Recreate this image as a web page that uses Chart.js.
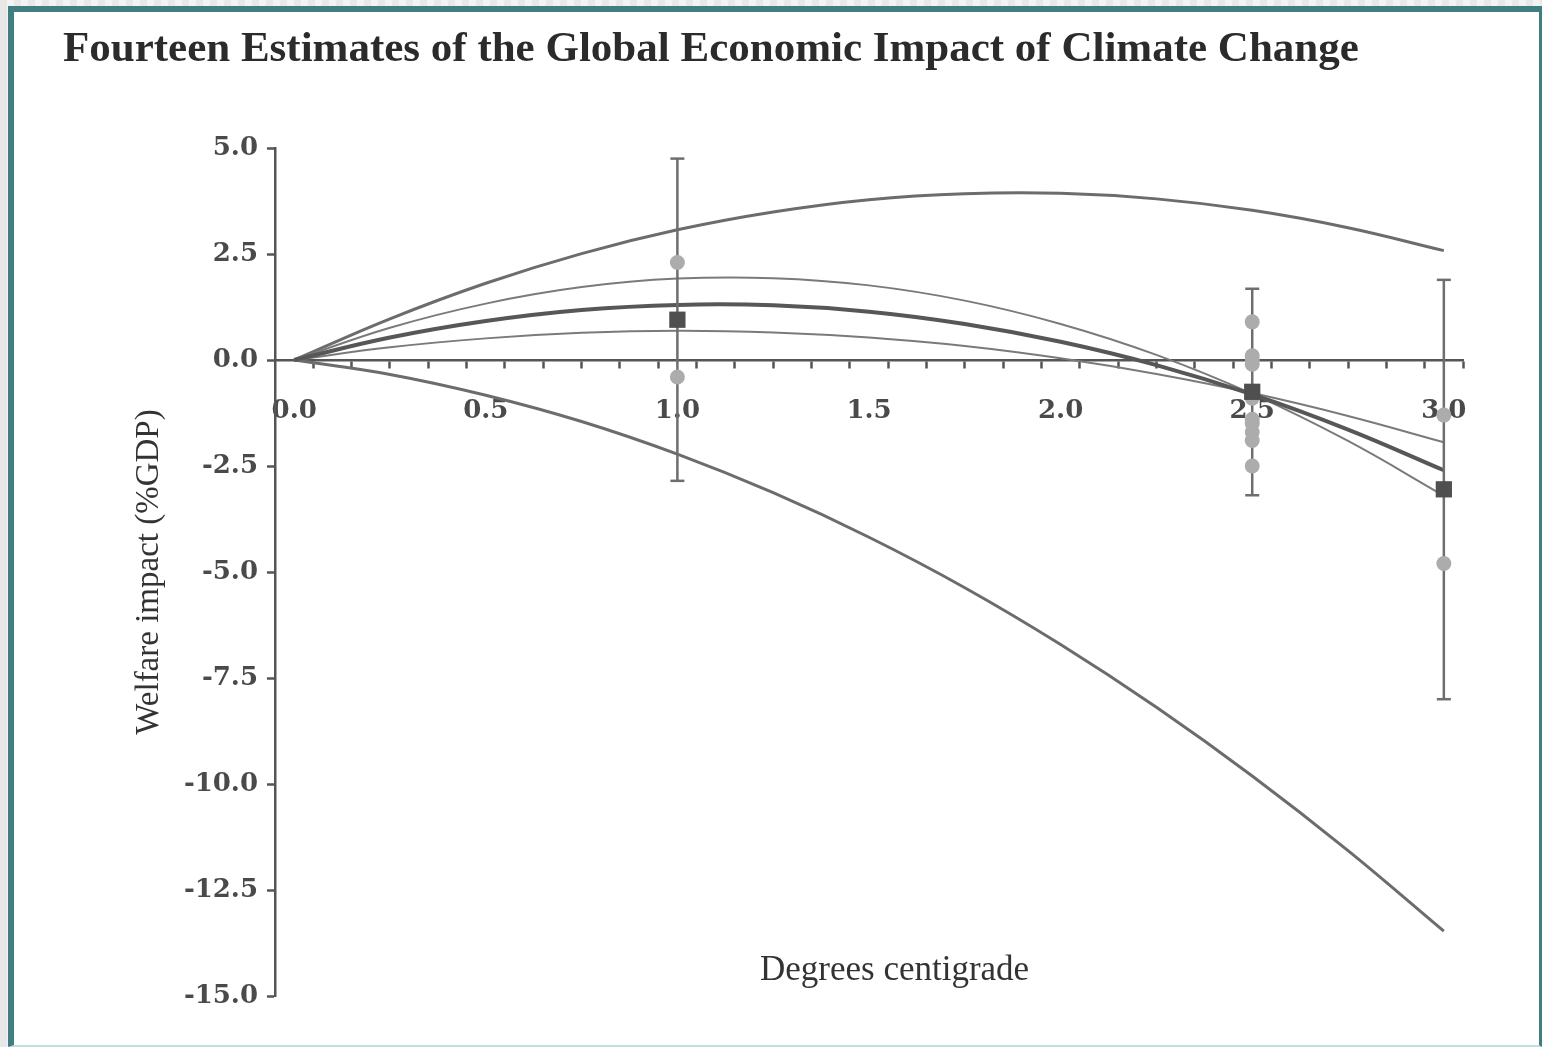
<!DOCTYPE html>
<html>
<head>
<meta charset="utf-8">
<script src="https://cdn.jsdelivr.net/npm/chart.js@4.4.1/dist/chart.umd.min.js"></script>
<style>
  html, body { margin: 0; padding: 0; }
  body {
    width: 1542px; height: 1047px; position: relative; overflow: hidden;
    background: repeating-linear-gradient(90deg, #e8e8e8 0 7px, #f3f3f3 7px 14px);
  }
  #frame {
    position: absolute; left: 8px; top: 6px; width: 1534px; height: 1041px;
    box-sizing: border-box; background: #fff;
    border-left: 6px solid #3f7f81; border-top: 6px solid #3f7f81;
    border-right: 3px solid #3f7f81; border-bottom: 2px solid #c5dcdd;
  }
  #title {
    position: absolute; left: 63px; top: 25px; margin: 0;
    font: bold 43px/43px "Liberation Serif", serif; color: #2b2b2b; white-space: nowrap;
  }
  #xcap {
    position: absolute; left: 760px; top: 951px;
    font: 35px/36px "Liberation Serif", serif; color: #333; white-space: nowrap;
  }
  #chart { position: absolute; left: 0; top: 0; }
</style>
</head>
<body>
<div id="frame"></div>
<canvas id="chart" width="1542" height="1047"></canvas>
<h1 id="title">Fourteen Estimates of the Global Economic Impact of Climate Change</h1>
<div id="xcap">Degrees centigrade</div>
<script>
// temperatures where the fitted curves were read
const temps = [0, 0.25, 0.5, 0.75, 1, 1.25, 1.5, 1.75, 2, 2.25, 2.5, 2.75, 3];
const curveHigh  = [0, 0.97, 1.81, 2.51, 3.07, 3.49, 3.78, 3.92, 3.93, 3.80, 3.53, 3.12, 2.58];
const curveUpper = [0, 0.76, 1.33, 1.72, 1.92, 1.93, 1.76, 1.40, 0.85, 0.12, -0.80, -1.91, -3.20];
const curveMean  = [0, 0.53, 0.92, 1.18, 1.30, 1.29, 1.14, 0.85, 0.43, -0.12, -0.81, -1.64, -2.60];
const curveLower = [0, 0.30, 0.51, 0.64, 0.69, 0.65, 0.53, 0.33, 0.04, -0.33, -0.78, -1.32, -1.94];
const curveLow   = [0, -0.34, -0.83, -1.45, -2.22, -3.13, -4.18, -5.37, -6.71, -8.19, -9.81, -11.57, -13.47];

// the fourteen estimates
const estTemp   = [1.0, 1.0, 2.5, 2.5, 2.5, 2.5, 2.5, 2.5, 2.5, 2.5, 2.5, 2.5, 3.0, 3.0];
const estImpact = [2.3, -0.4, 0.9, 0.1, 0.0, -0.1, -0.9, -1.4, -1.5, -1.7, -1.9, -2.5, -1.3, -4.8];

// averages and their error bars
const meanTemp   = [1.0, 2.5, 3.0];
const meanImpact = [0.95, -0.75, -3.05];
const barTop     = [4.75, 1.68, 1.89];
const barBottom  = [-2.85, -3.19, -8.0];

const xLabelTicks = [0, 0.5, 1, 1.5, 2, 2.5, 3];
const xMinorTicks = [];
for (let k = 0; k <= 30; k++) xMinorTicks.push(+(0.05 + 0.1 * k).toFixed(2));

const axisColor = '#555';
const labelColor = '#4a4a4a';
const tickFont = { family: 'DejaVu Serif', size: 26, weight: 'bold' };

function pts(xs, ys) {
  return xs.map((x, i) => ({ x: x, y: ys[i] }));
}

function curve(ys, color, width) {
  return {
    type: 'line', data: pts(temps, ys), borderColor: color, borderWidth: width,
    pointRadius: 0, tension: 0.4, fill: false
  };
}

const errorBars = meanTemp.map((t, i) => ({
  type: 'line',
  data: [{ x: t, y: barTop[i] }, { x: t, y: barBottom[i] }],
  borderColor: '#6e6e6e', borderWidth: 2.5,
  pointStyle: 'line', pointRadius: 7, pointBorderColor: '#6e6e6e', pointBorderWidth: 2.5,
  tension: 0
}));

const datasets = [
  {
    type: 'scatter', data: pts(meanTemp, meanImpact), pointStyle: 'rect',
    pointRadius: 11.5, backgroundColor: '#4f4f4f', borderWidth: 0
  },
  {
    type: 'scatter', data: pts(estTemp, estImpact), pointStyle: 'circle',
    pointRadius: 7.5, backgroundColor: '#acacac', borderWidth: 0
  },
  ...errorBars,
  curve(curveMean, '#575757', 4),
  curve(curveUpper, '#7a7a7a', 2),
  curve(curveLower, '#7a7a7a', 2),
  curve(curveHigh, '#6c6c6c', 3),
  curve(curveLow, '#6c6c6c', 3)
];

new Chart(document.getElementById('chart'), {
  data: { datasets: datasets },
  options: {
    responsive: false,
    animation: false,
    layout: { padding: { left: 0, right: 79, top: 148, bottom: 51 } },
    plugins: { legend: { display: false }, tooltip: { enabled: false }, title: { display: false } },
    scales: {
      x: {
        type: 'linear',
        position: { y: 0 },
        min: -0.05, max: 3.05,
        afterBuildTicks: (scale) => {
          const vals = xLabelTicks.concat(xMinorTicks).sort((a, b) => a - b);
          scale.ticks = vals.map(v => ({ value: v }));
        },
        ticks: {
          autoSkip: false, maxRotation: 0, padding: 29,
          color: labelColor, font: tickFont,
          callback: (v) => xLabelTicks.includes(v) ? v.toFixed(1) : ''
        },
        grid: {
          drawOnChartArea: false, drawTicks: true, tickLength: 7, tickWidth: 2.5,
          tickColor: (ctx) => (ctx.tick && xLabelTicks.includes(ctx.tick.value)) ? 'rgba(0,0,0,0)' : axisColor
        },
        border: { display: true, color: axisColor, width: 2.5 }
      },
      y: {
        type: 'linear',
        position: 'left',
        min: -15, max: 5,
        afterFit: (scale) => { scale.width = 275; },
        ticks: {
          stepSize: 2.5, padding: 9, color: labelColor, font: tickFont,
          callback: (v) => v.toFixed(1)
        },
        grid: { drawOnChartArea: false, drawTicks: true, tickLength: 8, tickWidth: 2.5, tickColor: axisColor },
        border: { display: true, color: axisColor, width: 2.5 },
        title: {
          display: true, text: 'Welfare impact (%GDP)', color: '#333',
          font: { family: 'Liberation Serif', size: 33 },
          padding: { top: 130, bottom: 0 }
        }
      }
    }
  }
});
</script>
</body>
</html>
